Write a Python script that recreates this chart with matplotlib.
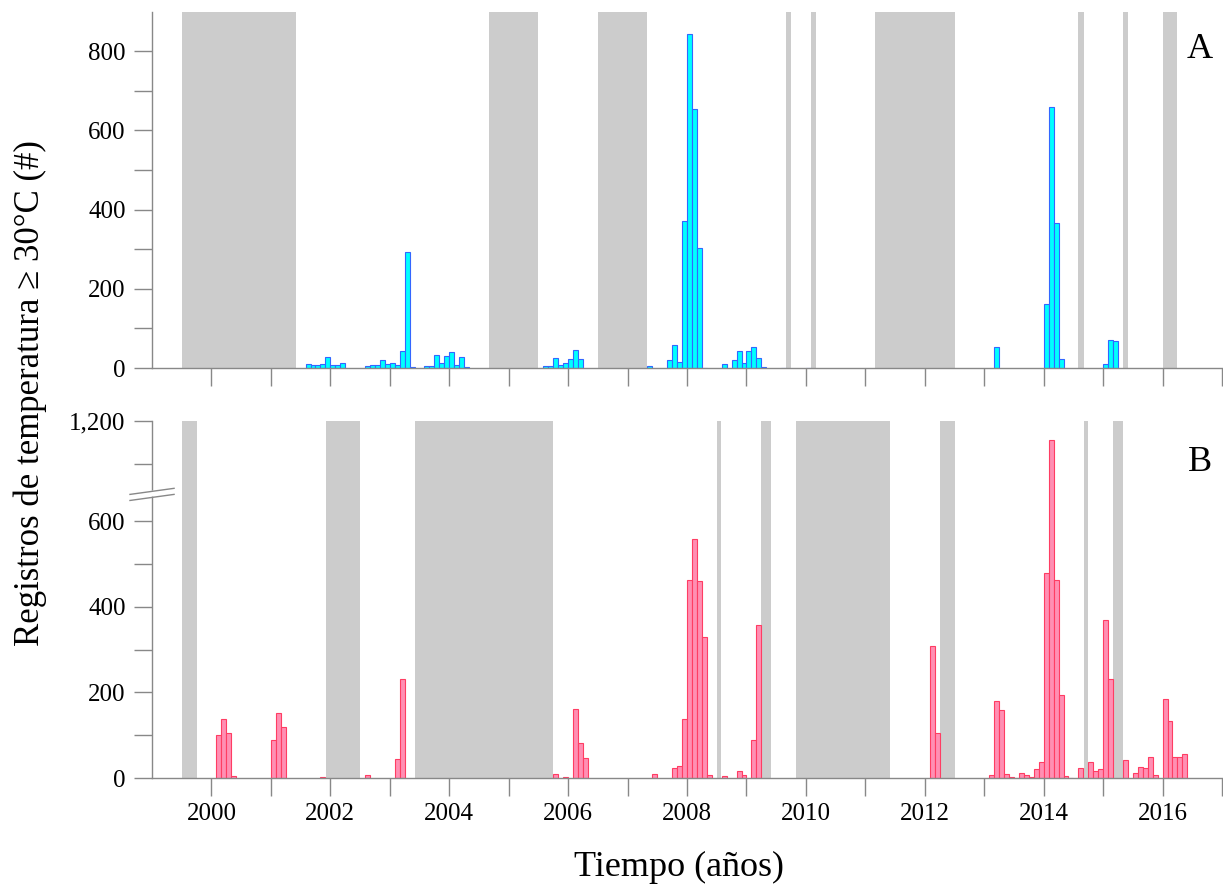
import numpy as np
import pandas as pd
import matplotlib

matplotlib.use("Agg")
import matplotlib.pyplot as plt
from matplotlib.ticker import FixedLocator, FuncFormatter

plt.rcParams["font.family"] = ["Liberation Serif", "DejaVu Serif"]

# Panel A: monthly counts (cyan)
a_months = ["2001-08", "2001-09", "2001-10", "2001-11", "2001-12", "2002-01", "2002-02", "2002-03",
            "2002-08", "2002-09", "2002-10", "2002-11", "2002-12", "2003-01", "2003-02", "2003-03",
            "2003-04", "2003-05",
            "2003-08", "2003-09", "2003-10", "2003-11", "2003-12", "2004-01", "2004-02", "2004-03",
            "2004-04",
            "2005-08", "2005-09", "2005-10", "2005-11", "2005-12", "2006-01", "2006-02", "2006-03",
            "2007-05",
            "2007-09", "2007-10", "2007-11", "2007-12", "2008-01", "2008-02", "2008-03", "2008-04",
            "2008-08", "2008-10", "2008-11", "2008-12", "2009-01", "2009-02", "2009-03", "2009-04",
            "2009-08", "2010-01",
            "2013-03", "2014-01", "2014-02", "2014-03", "2014-04", "2015-01", "2015-02", "2015-03"]
a_counts = [11, 8, 7, 9, 29, 7, 7, 13,
            4, 8, 8, 20, 11, 13, 8, 44,
            293, 2,
            4, 6, 33, 12, 31, 40, 7, 27,
            2,
            6, 6, 26, 7, 13, 23, 45, 22,
            5,
            21, 57, 14, 372, 843, 654, 302, 1,
            11, 20, 42, 13, 42, 53, 25, 2,
            1, 1,
            54, 161, 660, 365, 24, 9, 72, 69]

# Panel B: monthly counts (pink)
b_months = ["2000-02", "2000-03", "2000-04", "2000-05", "2001-01", "2001-02", "2001-03",
            "2001-11", "2002-08", "2003-02", "2003-03",
            "2005-10", "2005-12", "2006-02", "2006-03", "2006-04",
            "2007-06", "2007-10", "2007-11", "2007-12", "2008-01", "2008-02", "2008-03", "2008-04",
            "2008-05", "2008-08", "2008-11", "2008-12", "2009-02", "2009-03",
            "2012-02", "2012-03",
            "2013-02", "2013-03", "2013-04", "2013-05", "2013-06", "2013-07", "2013-08", "2013-09",
            "2013-10", "2013-11", "2013-12",
            "2014-01", "2014-02", "2014-03", "2014-04", "2014-05", "2014-06",
            "2014-08", "2014-10", "2014-11", "2014-12", "2015-01", "2015-02", "2015-05",
            "2015-07", "2015-08", "2015-09", "2015-10", "2015-11",
            "2016-01", "2016-02", "2016-03", "2016-04", "2016-05"]
b_counts = [100, 138, 105, 5, 89, 153, 120,
            3, 6, 44, 232,
            9, 3, 162, 83, 47,
            10, 23, 28, 138, 462, 559, 460, 330,
            8, 5, 16, 6, 90, 357,
            309, 106,
            8, 179, 158, 10, 3, 1, 11, 7,
            3, 20, 37,
            478, 1155, 463, 194, 4, 1,
            24, 38, 17, 20, 370, 231, 41,
            12, 25, 24, 48, 6,
            185, 133, 50, 48, 55]

# periods without data (decimal years)
a_gap_start = [1999.5, 2004.67, 2006.5, 2009.67, 2010.08, 2011.17, 2014.58, 2015.33, 2016.0]
a_gap_end = [2001.42, 2005.5, 2007.33, 2009.75, 2010.17, 2012.5, 2014.67, 2015.42, 2016.25]
b_gap_start = [1999.5, 2001.92, 2003.42, 2008.5, 2009.25, 2009.83, 2012.25, 2014.67, 2015.17]
b_gap_end = [1999.75, 2002.5, 2005.75, 2008.58, 2009.42, 2011.42, 2012.5, 2014.75, 2015.33]

year_ticks = list(range(2000, 2018))
GRAY = "#888888"
LOW_TOP, HIGH_BOT = 666, 1032  # broken y axis in panel B


def to_decimal(months):
    d = pd.to_datetime(months, format="%Y-%m")
    return (d.year + (d.month - 1) / 12.0).to_numpy()


def fwd(y):
    y = np.asarray(y, dtype=float)
    return np.where(y <= LOW_TOP, y, np.where(y >= HIGH_BOT, y - (HIGH_BOT - LOW_TOP), LOW_TOP))


def inv(v):
    v = np.asarray(v, dtype=float)
    return np.where(v <= LOW_TOP, v, v + (HIGH_BOT - LOW_TOP))


def style_axes(ax):
    for s in ("top", "right"):
        ax.spines[s].set_visible(False)
    for s in ("left", "bottom"):
        ax.spines[s].set_color(GRAY)
        ax.spines[s].set_linewidth(1.0)
    ax.tick_params(which="both", direction="out", length=13, width=1.0, color=GRAY,
                   labelsize=18, pad=5)
    ax.tick_params(axis="y", which="both", pad=6)
    ax.set_xlim(1999, 2017)
    ax.xaxis.set_major_locator(FixedLocator(year_ticks))


fig = plt.figure(figsize=(12.23, 8.90), dpi=100)
ax_a = fig.add_axes([0.1243, 0.5865, 0.8749, 0.4004])
ax_b = fig.add_axes([0.1243, 0.1258, 0.8749, 0.4011])

# Panel A
for s, e in zip(a_gap_start, a_gap_end):
    ax_a.axvspan(s, e, color="#cccccc", lw=0, zorder=0)
ax_a.bar(to_decimal(a_months), a_counts, width=1 / 12, align="edge",
         color="#00ffff", edgecolor="#3366ff", linewidth=0.8, zorder=2)
ax_a.set_ylim(0, 900)
style_axes(ax_a)
ax_a.yaxis.set_major_locator(FixedLocator([0, 200, 400, 600, 800]))
ax_a.yaxis.set_minor_locator(FixedLocator([100, 300, 500, 700]))
ax_a.set_xticklabels([])
ax_a.text(0.979, 0.893, "A", transform=ax_a.transAxes, ha="center", va="center", fontsize=26)

# Panel B
ax_b.set_yscale("function", functions=(fwd, inv))
for s, e in zip(b_gap_start, b_gap_end):
    ax_b.axvspan(s, e, color="#cccccc", lw=0, zorder=0)
ax_b.bar(to_decimal(b_months), b_counts, width=1 / 12, align="edge",
         color="#ff8fb3", edgecolor="#ff3d63", linewidth=0.8, zorder=2)
ax_b.set_ylim(0, 1200)
style_axes(ax_b)
ax_b.yaxis.set_major_locator(FixedLocator([0, 200, 400, 600, 1200]))
ax_b.yaxis.set_minor_locator(FixedLocator([100, 300, 500, 1100]))
ax_b.yaxis.set_major_formatter(FuncFormatter(lambda v, p: f"{int(v):,}"))
ax_b.xaxis.set_major_formatter(FuncFormatter(lambda v, p: f"{int(v)}" if int(v) % 2 == 0 else ""))
ax_b.text(0.979, 0.885, "B", transform=ax_b.transAxes, ha="center", va="center", fontsize=26)

# axis break mark on the left spine
yb = fwd(LOW_TOP) / fwd(1200)
ax_b.fill([-0.0206, 0.0206, 0.0206, -0.0206], [yb - 0.017, yb, yb + 0.013, yb - 0.004],
          transform=ax_b.transAxes, color="white", clip_on=False, zorder=5)
for dy in (-0.017, 0.0):
    ax_b.plot([-0.0206, 0.0206], [yb - 0.004 + dy, yb + 0.013 + dy], transform=ax_b.transAxes,
              color=GRAY, lw=1.0, clip_on=False, zorder=6)

fig.text(0.025, 0.558, "Registros de temperatura \u2265 30\u00b0C (#)", rotation=90,
         ha="center", va="center", fontsize=25)
fig.text(0.555, 0.025, "Tiempo (años)", ha="center", va="center", fontsize=26)

fig.savefig("out.png", dpi=100)
